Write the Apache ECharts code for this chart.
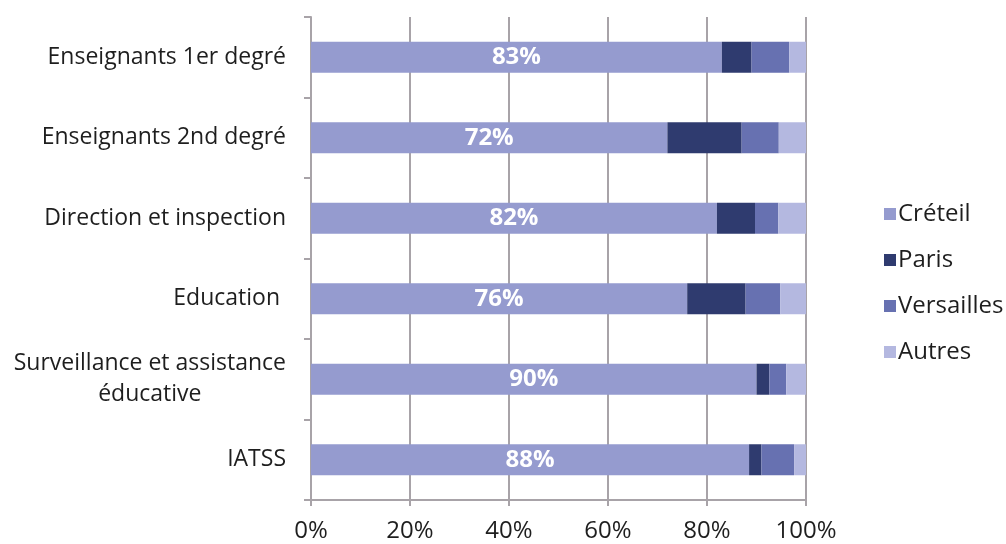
<!DOCTYPE html>
<html>
<head>
<meta charset="utf-8">
<script src="https://cdn.jsdelivr.net/npm/echarts@6/dist/echarts.min.js"></script>
<style>
  html, body { margin: 0; padding: 0; background: #fff; }
  #chart { width: 1006px; height: 544px; }
</style>
</head>
<body>
<div id="chart"></div>
<script>
  // categories, top to bottom as in the picture
  const categories = [
    'Enseignants 1er degré',
    'Enseignants 2nd degré',
    'Direction et inspection',
    'Education ',
    'Surveillance et assistance\néducative',
    'IATSS'
  ];
  const creteil    = [83, 72, 82, 76, 90, 88.5];
  const paris      = [6, 15, 7.7, 11.8, 2.6, 2.5];
  const versailles = [7.6, 7.5, 4.7, 7, 3.4, 6.6];
  const autres     = [3.4, 5.5, 5.6, 5.2, 4, 2.4];
  const creteilLabels = ['83%', '72%', '82%', '76%', '90%', '88%'];

  const font = 'Open Sans';
  const chart = echarts.init(document.getElementById('chart'));

  const bar = (name, data, color, extra) => Object.assign({
    name: name,
    type: 'bar',
    stack: 'total',
    data: data,
    barWidth: 31,
    itemStyle: { color: color },
    emphasis: { disabled: true }
  }, extra || {});

  chart.setOption({
    animation: false,
    textStyle: { fontFamily: font },
    grid: { left: 311, right: 200, top: 17, bottom: 44, containLabel: false },
    legend: {
      orient: 'vertical',
      left: 879,
      top: 197,
      itemWidth: 12,
      itemHeight: 12,
      itemGap: 22,
      icon: 'rect',
      textStyle: { fontSize: 24, color: '#1e1e1e', fontFamily: font, padding: [0, 0, 0, -3] },
      data: ['Créteil', 'Paris', 'Versailles', 'Autres']
    },
    xAxis: {
      type: 'value',
      min: 0,
      max: 100,
      interval: 20,
      axisLine: { show: true, lineStyle: { color: '#a8a3a8', width: 2 } },
      axisTick: { show: true, length: 6, lineStyle: { color: '#a8a3a8', width: 2 } },
      splitLine: { show: true, lineStyle: { color: '#a8a3a8', width: 2 } },
      axisLabel: {
        formatter: '{value}%',
        fontSize: 24,
        color: '#1e1e1e',
        margin: 19,
        fontFamily: font
      }
    },
    yAxis: {
      type: 'category',
      inverse: true,
      data: categories,
      axisLine: { show: true, lineStyle: { color: '#a8a3a8', width: 2 } },
      axisTick: { show: true, length: 7, lineStyle: { color: '#a8a3a8', width: 2 } },
      axisLabel: {
        margin: 25,
        formatter: v => '{c|' + v + '}',
        rich: {
          c: {
            fontSize: 23,
            color: '#1e1e1e',
            lineHeight: 31,
            align: 'center',
            fontFamily: font
          }
        }
      }
    },
    series: [
      bar('Créteil', creteil, '#959bcf', {
        label: {
          show: true,
          position: 'inside',
          color: '#fff',
          fontSize: 24,
          fontWeight: 'bold',
          fontFamily: font,
          formatter: p => creteilLabels[p.dataIndex]
        }
      }),
      bar('Paris', paris, '#2f3b6f'),
      bar('Versailles', versailles, '#6771b1'),
      bar('Autres', autres, '#b4b8e0')
    ]
  });
</script>
</body>
</html>
